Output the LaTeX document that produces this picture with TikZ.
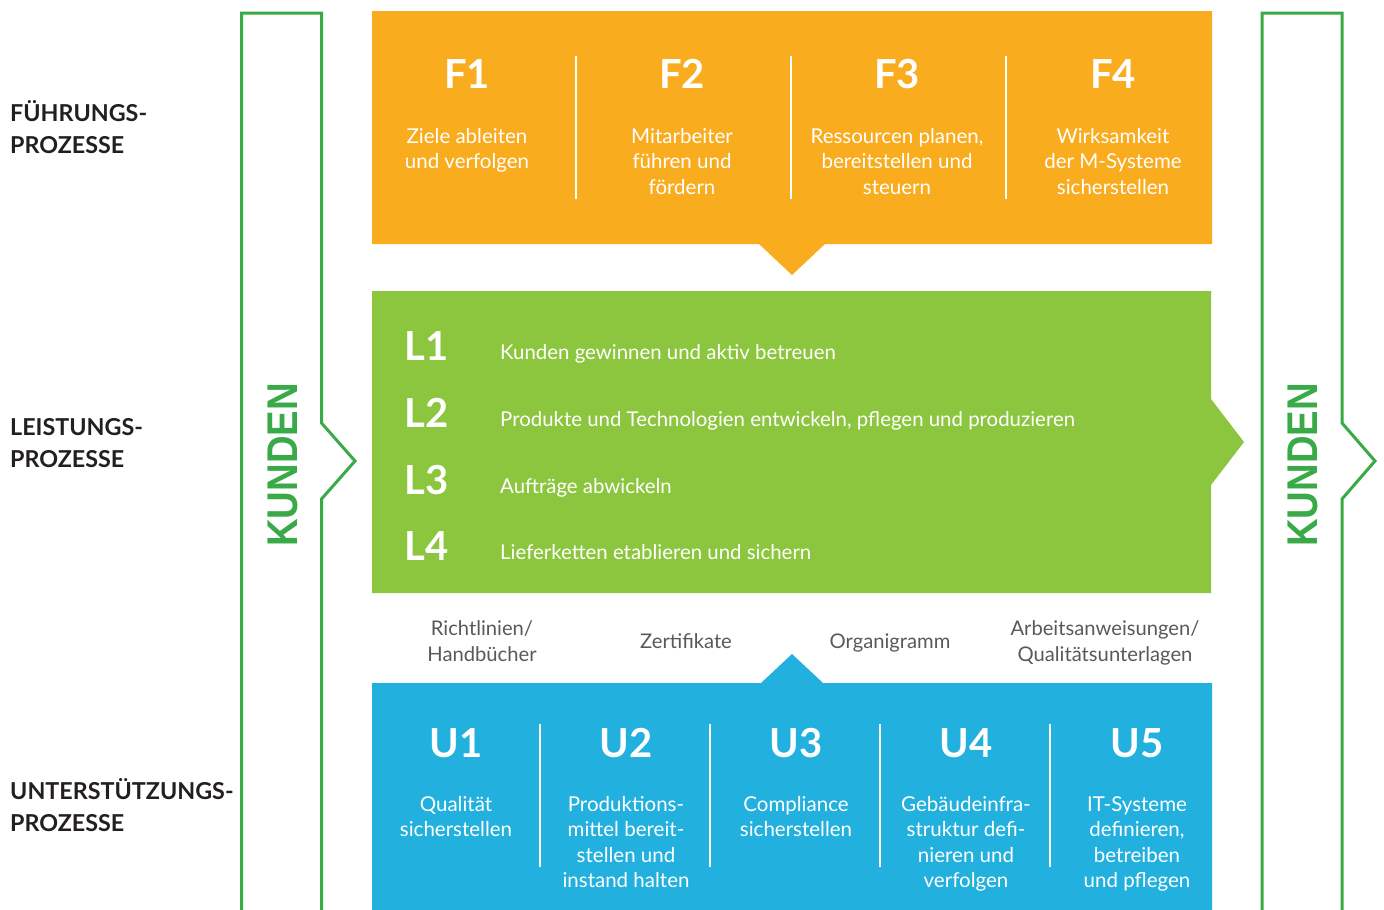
\documentclass[tikz,border=0pt]{standalone}
\usepackage{fontspec}
\setmainfont{Lato}
\newfontfamily\kfont{Liberation Sans}
\definecolor{orangec}{RGB}{249,172,30}
\definecolor{greenc}{RGB}{140,198,63}
\definecolor{bluec}{RGB}{34,176,222}
\definecolor{kgreen}{RGB}{58,170,72}
\definecolor{darkt}{RGB}{35,31,32}
\definecolor{grayt}{RGB}{88,89,91}
\tikzset{
  head/.style={text=white, font=\bfseries\fontsize{40}{48}\selectfont, anchor=base, inner sep=0pt},
  body/.style={text=white, font=\fontsize{20.5}{25.5}\selectfont, align=center, anchor=north, inner sep=0pt},
  ltext/.style={text=white, font=\fontsize{20.4}{25.5}\selectfont, anchor=base west, inner sep=0pt},
  lhead/.style={text=white, font=\bfseries\fontsize{40}{48}\selectfont, anchor=base west, inner sep=0pt},
  side/.style={text=darkt, font=\bfseries\fontsize{23.3}{32}\selectfont, align=left, anchor=north west, inner sep=0pt},
  mid/.style={text=grayt, font=\fontsize{20.2}{26}\selectfont, align=center, anchor=north, inner sep=0pt},
  kunden/.style={text=kgreen, font=\kfont\bfseries\fontsize{43}{50}\selectfont, rotate=90, inner sep=0pt},
  outline/.style={draw=kgreen, line width=3pt},
  divider/.style={draw=white, line width=2.5pt}
}
\begin{document}
\begin{tikzpicture}[x=1pt,y=-1pt]
\useasboundingbox (0,0) rectangle (1384,910);
% bands
\fill[orangec] (372,11) -- (1212,11) -- (1212,244) -- (825,244) -- (792,275) -- (759,244) -- (372,244) -- cycle;
\fill[greenc] (372,291) -- (1211,291) -- (1211,399) -- (1244,442) -- (1211,485) -- (1211,593) -- (372,593) -- cycle;
\fill[bluec] (372,683) -- (761,683) -- (792,654) -- (823,683) -- (1212,683) -- (1212,915) -- (372,915) -- cycle;
% customer outlines
\draw[outline] (241.5,915) -- (241.5,13) -- (321.5,13) -- (321.5,423) -- (355,461) -- (321.5,499) -- (321.5,915);
\draw[outline] (1262,915) -- (1262,13) -- (1342,13) -- (1342,423) -- (1375,461) -- (1342,499) -- (1342,915);
\node[kunden] (k1) at (282.5,465) {\scalebox{0.89}[1]{KUNDEN}};
\node[kunden] (k2) at (1303,465) {\scalebox{0.89}[1]{KUNDEN}};
% side labels
\node[side] (s1) at (10,98.6) {\strut FÜHRUNGS-\\PROZESSE};
\node[side] (s2) at (10,413) {\strut LEISTUNGS-\\PROZESSE};
\node[side] (s3) at (10,777) {\strut UNTERSTÜTZUNGS-\\PROZESSE};
% orange dividers
\foreach \x in {576,791,1006} \draw[divider] (\x,56) -- (\x,199);
% F columns
\node[head] (f1) at (467,88) {F1};
\node[head] (f2) at (682,88) {F2};
\node[head] (f3) at (897,88) {F3};
\node[head] (f4) at (1113,88) {F4};
\node[body] (f1t) at (467,125.15) {\strut Ziele ableiten\\und verfolgen};
\node[body] (f2t) at (682,125.15) {\strut Mitarbeiter\\führen und\\fördern};
\node[body] (f3t) at (897,125.15) {\strut Ressourcen planen,\\bereitstellen und\\steuern};
\node[body] (f4t) at (1113,125.15) {\strut Wirksamkeit\\der M-Systeme\\sicherstellen};
% L rows
\node[lhead] (l1) at (404,360) {L1};
\node[lhead] (l2) at (404,427) {L2};
\node[lhead] (l3) at (404,494) {L3};
\node[lhead] (l4) at (404,560) {L4};
\node[ltext] (l1t) at (500,359) {Kunden gewinnen und aktiv betreuen};
\node[ltext] (l2t) at (500,426) {Produkte und Technologien entwickeln, pflegen und produzieren};
\node[ltext] (l3t) at (500,493) {Aufträge abwickeln};
\node[ltext] (l4t) at (500,559) {Lieferketten etablieren und sichern};
% middle documents
\node[mid] (m1) at (482,616.8) {\strut Richtlinien/\\Handbücher};
\node[mid, anchor=base] (m2) at (686,648) {Zertifikate};
\node[mid, anchor=base] (m3) at (890,648) {Organigramm};
\node[mid] (m4) at (1105,616.8) {\strut Arbeitsanweisungen/\\Qualitätsunterlagen};
% blue dividers
\foreach \x in {540,710,880,1050} \draw[divider] (\x,724) -- (\x,867);
% U columns
\node[head] (u1) at (456,757) {U1};
\node[head] (u2) at (626,757) {U2};
\node[head] (u3) at (796,757) {U3};
\node[head] (u4) at (966,757) {U4};
\node[head] (u5) at (1137,757) {U5};
\node[body] (u1t) at (456,793.15) {\strut Qualität\\sicherstellen};
\node[body] (u2t) at (626,793.15) {\strut Produktions-\\mittel bereit-\\stellen und\\instand halten};
\node[body] (u3t) at (796,793.15) {\strut Compliance\\sicherstellen};
\node[body] (u4t) at (966,793.15) {\strut Gebäudeinfra-\\struktur defi-\\nieren und\\verfolgen};
\node[body] (u5t) at (1137,793.15) {\strut IT-Systeme\\definieren,\\betreiben\\und pflegen};
\end{tikzpicture}
\end{document}
